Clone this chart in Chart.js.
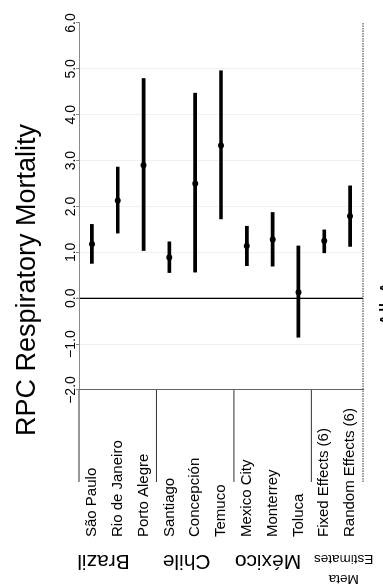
<!DOCTYPE html>
<html>
<head>
<meta charset="utf-8">
<script src="https://cdn.jsdelivr.net/npm/chart.js@4"></script>
<style>
  html, body { margin: 0; padding: 0; background: #fff; overflow: hidden; width: 383px; height: 585px; }
  /* The forest plot is laid out on its side and turned a quarter turn counter-clockwise. */
  #wrap {
    position: absolute; left: 0; top: 0;
    width: 585px; height: 383px;
    transform-origin: 0 0;
    transform: translate(0, 585px) rotate(-90deg);
  }
</style>
</head>
<body>
<div id="wrap"><canvas id="c" width="585" height="383"></canvas></div>
<script>
// Cities and pooled estimates, in display order
const cities = [
  'São Paulo', 'Rio de Janeiro', 'Porto Alegre',
  'Santiago', 'Concepción', 'Temuco',
  'Mexico City', 'Monterrey', 'Toluca',
  'Fixed Effects (6)', 'Random Effects (6)'
];
// Central estimates and 95% interval bounds
const estimates = [1.18, 2.13, 2.90, 0.89, 2.50, 3.33, 1.14, 1.28, 0.13, 1.25, 1.79];
const lowerCI   = [0.76, 1.42, 1.04, 0.56, 0.57, 1.73, 0.71, 0.70, -0.85, 0.99, 1.13];
const upperCI   = [1.61, 2.86, 4.79, 1.23, 4.47, 4.96, 1.57, 1.87, 1.14, 1.49, 2.45];
// Country groups and how many rows each one spans
const groupNames = ['Brazil', 'Chile', 'México', ['Meta', 'Estimates']];
const groupSizes = [3, 3, 3, 2];
// Value axis ticks
const valueTicks = [-2, -1, 0, 1, 2, 3, 4, 5, 6];
const axisTitle = 'RPC Respiratory Mortality';
const panelCaption = 'All-Ages';

const FONT = '"Liberation Sans", Arial, Helvetica, sans-serif';
Chart.defaults.font.family = FONT;
Chart.defaults.color = '#000';

// Group separators, group names and the panel caption
const groupPlugin = {
  id: 'groupLabels',
  afterDraw(chart) {
    const { ctx, chartArea, scales: { y } } = chart;
    const sepLeft = 103;
    const bounds = [0];
    groupSizes.reduce((acc, n) => { bounds.push(acc + n); return acc + n; }, 0);

    ctx.save();
    ctx.strokeStyle = '#333';
    ctx.lineWidth = 1;
    bounds.forEach((b, i) => {
      const py = y.getPixelForValue(b - 0.5);
      ctx.beginPath();
      if (i === bounds.length - 1) {
        ctx.setLineDash([1.5, 1]);
        ctx.moveTo(sepLeft, py);
        ctx.lineTo(chartArea.right, py);
      } else {
        ctx.setLineDash([]);
        ctx.moveTo(sepLeft, py);
        ctx.lineTo(chartArea.left, py);
      }
      ctx.stroke();
    });
    ctx.setLineDash([]);

    // group names, written up the page beside the city names
    const anchors = [0.45, 3.67, 6.82, 9.75];
    ctx.fillStyle = '#000';
    ctx.textAlign = 'center';
    ctx.textBaseline = 'alphabetic';
    groupNames.forEach((name, i) => {
      const lines = Array.isArray(name) ? name : [name];
      const size = lines.length > 1 ? 13.5 : 21;
      ctx.font = size + 'px ' + FONT;
      const py = y.getPixelForValue(anchors[i]);
      ctx.save();
      ctx.translate(30, py);
      ctx.rotate(-Math.PI / 2);
      lines.forEach((t, k) => ctx.fillText(t, 0, (k - (lines.length - 1)) * 20));
      ctx.restore();
    });

    // caption under the panel
    ctx.font = '22px ' + FONT;
    ctx.textAlign = 'left';
    ctx.fillText(panelCaption, 258, 395);
    ctx.restore();
  }
};

new Chart(document.getElementById('c'), {
  type: 'bar',
  data: {
    labels: cities,
    datasets: [
      {
        type: 'line',
        indexAxis: 'y',
        data: estimates,
        showLine: false,
        pointRadius: 3,
        pointHoverRadius: 3,
        pointBackgroundColor: '#000',
        pointBorderWidth: 0,
        order: 0
      },
      {
        type: 'bar',
        indexAxis: 'y',
        data: cities.map((_, i) => [lowerCI[i], upperCI[i]]),
        backgroundColor: '#000',
        borderWidth: 0,
        barThickness: 3,
        order: 1
      }
    ]
  },
  options: {
    indexAxis: 'y',
    responsive: false,
    devicePixelRatio: 1,
    animation: false,
    events: [],
    layout: { padding: { left: 48, right: 23, top: 0, bottom: 20 } },
    plugins: {
      legend: { display: false },
      tooltip: { enabled: false },
      title: {
        display: true,
        text: axisTitle,
        color: '#000',
        font: { size: 27, weight: 'normal', family: FONT },
        padding: { top: 11.4, bottom: 5.2 }
      }
    },
    scales: {
      x: {
        type: 'linear',
        position: 'top',
        min: valueTicks[0],
        max: valueTicks[valueTicks.length - 1],
        afterBuildTicks: s => { s.ticks = valueTicks.map(v => ({ value: v })); },
        afterFit: s => { s.height = 30; },
        ticks: {
          color: '#000',
          font: { size: 14 },
          padding: -3.5,
          maxRotation: 0,
          callback: v => v.toFixed(1).replace('-', '\u2212')
        },
        grid: {
          color: c => {
            const v = c.tick && c.tick.value;
            if (v === 0) return '#000';
            if (v === valueTicks[0]) return '#666';
            if (v === valueTicks[valueTicks.length - 1]) return 'rgba(0,0,0,0)';
            return 'rgba(0,0,0,0.06)';
          },
          lineWidth: c => (c.tick && c.tick.value === 0 ? 1.3 : 1),
          tickLength: 3,
          tickColor: '#888'
        },
        border: { display: true, color: '#8a8a8a', width: 1 }
      },
      y: {
        type: 'category',
        position: 'left',
        offset: true,
        afterFit: s => { s.width = 147; },
        ticks: {
          color: '#000',
          font: { size: 15 },
          crossAlign: 'far',
          padding: 0,
          autoSkip: false
        },
        grid: { display: false },
        border: { display: true, color: '#666', width: 1 }
      }
    }
  },
  plugins: [groupPlugin]
});
</script>
</body>
</html>
